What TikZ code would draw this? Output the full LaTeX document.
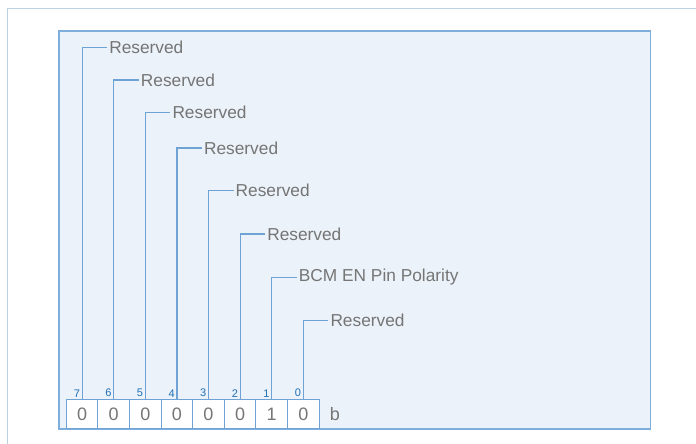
\documentclass[tikz,border=0pt]{standalone}
\usepackage{fontspec}
\setmainfont{Liberation Sans}
\definecolor{frameC}{HTML}{B9D3E0}
\definecolor{panelFill}{HTML}{EBF2F9}
\definecolor{panelLine}{HTML}{7FAEDC}
\definecolor{leadC}{HTML}{6FA3D6}
\definecolor{txtC}{HTML}{757575}
\definecolor{numC}{HTML}{1F6FB5}
\tikzset{
  bitbox/.style={draw=leadC, fill=white, line width=1bp, minimum width=31.6bp, minimum height=29.4bp, inner sep=0pt, font=\fontsize{18bp}{20bp}\selectfont, text=txtC},
  bitnum/.style={font=\fontsize{11bp}{12bp}\selectfont, text=numC, inner sep=0.5bp, anchor=south east},
  lbl/.style={font=\fontsize{17.3bp}{20bp}\selectfont, text=txtC, anchor=west, inner sep=2bp},
  lead/.style={draw=leadC, line width=1.2bp}
}
\begin{document}
\begin{tikzpicture}[x=1bp,y=-1bp]
\useasboundingbox (0,0) rectangle (696,444);
% outer frame
\draw[frameC, line width=1.2bp] (7.5,444) -- (7.5,8.5) -- (696,8.5);
% panel
\draw[draw=panelLine, fill=panelFill, line width=1.2bp] (59,31) rectangle (650.5,429);
% bit boxes
\foreach \i/\v [count=\k from 0] in {7/0,6/0,5/0,4/0,3/0,2/0,1/1,0/0}{
  \node[bitbox] (b\i) at ({66.3+15.8+31.6*\k},414) {\v};
  \node[bitnum] (n\i) at ([xshift=-1.5bp,yshift=1bp]b\i.north) {\i};
}
\node[lbl, font=\fontsize{18bp}{20bp}\selectfont] (bsuf) at ([xshift=8bp]b0.east) {b};
% labels
\foreach \i/\y/\t in {7/47.5/Reserved,6/80/Reserved,5/112.5/Reserved,4/148/Reserved,3/190.5/Reserved,2/234/Reserved,1/277.3/BCM EN Pin Polarity,0/320.7/Reserved}{
  \path (b\i.north) ++(25,0) coordinate (c\i);
  \coordinate (e\i) at (c\i |- 0,\y);
  \node[lbl] (l\i) at (e\i) {\t};
  \draw[lead] (b\i.north) |- (l\i.west);
}
\end{tikzpicture}
\end{document}
